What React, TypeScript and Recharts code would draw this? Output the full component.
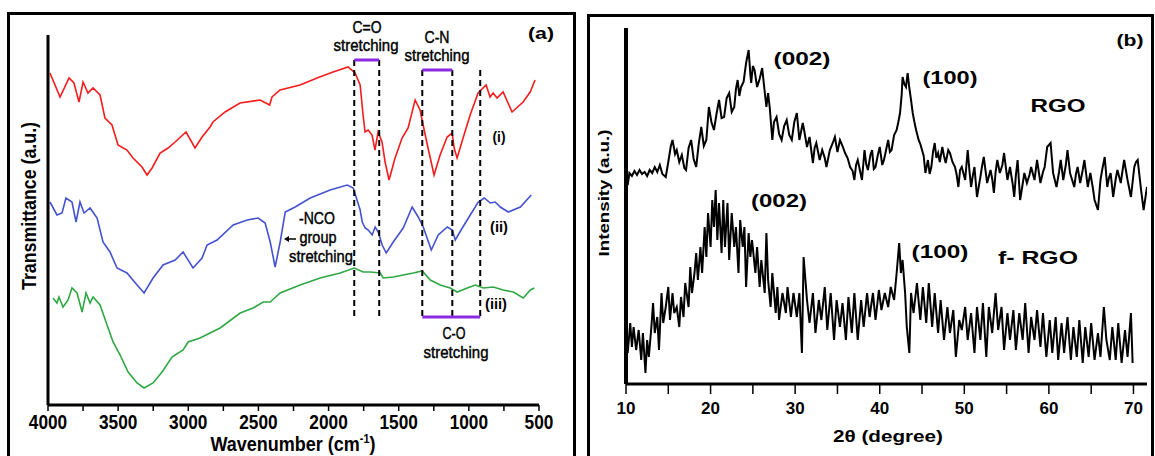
import { LineChart, Line, XAxis, YAxis, ReferenceLine } from 'recharts'

// FTIR spectra (a): [wavenumber cm-1, transmittance a.u.]
const ftirI: [number, number][] = [
  [3986, 332], [3914, 308], [3850, 327], [3815, 322], [3779, 303], [3750, 323], [3715, 312], [3679, 317],
  [3629, 310], [3594, 287], [3544, 280], [3501, 260], [3437, 255], [3394, 247], [3330, 238], [3294, 230],
  [3258, 237], [3201, 252], [3144, 257], [3094, 263], [3016, 273], [2952, 257], [2902, 268], [2845, 278],
  [2824, 283], [2738, 293], [2631, 302], [2488, 305], [2420, 300], [2403, 308], [2346, 315], [2203, 320],
  [2082, 327], [1968, 333], [1861, 338], [1811, 332], [1775, 320], [1754, 290], [1740, 273], [1718, 275],
  [1690, 270], [1669, 255], [1647, 273], [1619, 263], [1597, 243], [1569, 225], [1526, 247], [1476, 267],
  [1433, 277], [1383, 305], [1348, 295], [1326, 280], [1291, 257], [1248, 230], [1205, 250], [1155, 268],
  [1119, 272], [1105, 257], [1084, 247], [1041, 267], [991, 290], [934, 312], [877, 320], [849, 308],
  [827, 312], [799, 307], [756, 313], [692, 293], [613, 303], [563, 313], [528, 325],
]
const ftirII: [number, number][] = [
  [3986, 203], [3936, 190], [3900, 192], [3872, 207], [3829, 203], [3800, 183], [3772, 203], [3743, 192],
  [3700, 197], [3650, 187], [3608, 163], [3558, 153], [3508, 137], [3437, 132], [3365, 120], [3315, 112],
  [3251, 127], [3180, 140], [3094, 145], [3037, 153], [2966, 137], [2902, 147], [2866, 160], [2795, 165],
  [2680, 180], [2580, 185], [2502, 187], [2452, 182], [2416, 163], [2381, 138], [2345, 163], [2309, 193],
  [2238, 198], [2131, 207], [1989, 215], [1867, 220], [1824, 217], [1775, 195], [1760, 183], [1739, 177],
  [1717, 175], [1689, 170], [1668, 178], [1646, 173], [1618, 160], [1589, 152], [1539, 163], [1468, 177],
  [1404, 198], [1361, 188], [1325, 178], [1268, 155], [1218, 170], [1154, 178], [1118, 175], [1097, 165],
  [1047, 177], [990, 190], [933, 203], [890, 207], [847, 202], [812, 203], [776, 198], [719, 193],
  [633, 198], [555, 210],
]
const ftirIII: [number, number][] = [
  [3964, 107], [3936, 102], [3922, 108], [3893, 98], [3857, 105], [3829, 117], [3793, 112], [3757, 93],
  [3729, 112], [3700, 102], [3679, 108], [3629, 100], [3579, 80], [3536, 63], [3486, 50], [3429, 33],
  [3365, 22], [3315, 17], [3251, 22], [3187, 33], [3116, 48], [3037, 55], [3001, 63], [2916, 67],
  [2845, 72], [2773, 77], [2630, 92], [2538, 97], [2466, 103], [2416, 103], [2345, 112], [2203, 120],
  [2060, 127], [1917, 132], [1817, 137], [1753, 133], [1703, 133], [1632, 132], [1610, 127], [1539, 128],
  [1468, 130], [1396, 132], [1332, 134], [1275, 125], [1204, 120], [1133, 117], [1083, 113], [1011, 117],
  [954, 120], [897, 117], [826, 118], [755, 115], [683, 113], [612, 107], [562, 115], [533, 117],
]

// XRD patterns (b): [2theta degree, intensity a.u.]
const xrdRGO: [number, number][] = [
  [10.2, 199], [10.4, 211], [10.7, 208], [11.0, 213], [11.3, 209], [11.6, 214], [11.9, 210], [12.2, 212],
  [12.5, 208], [12.8, 214], [13.1, 211], [13.4, 217], [13.7, 212], [14.0, 219], [14.3, 210], [14.7, 207],
  [15.0, 222], [15.3, 238], [15.5, 244], [15.8, 230], [16.0, 234], [16.3, 222], [16.6, 229], [16.9, 216],
  [17.1, 214], [17.4, 236], [17.7, 244], [18.0, 225], [18.3, 217], [18.6, 240], [18.9, 257], [19.2, 238],
  [19.5, 244], [19.8, 277], [20.1, 262], [20.4, 254], [20.7, 270], [21.0, 284], [21.3, 266], [21.6, 267],
  [21.9, 286], [22.2, 291], [22.5, 272], [22.8, 277], [23.0, 295], [23.2, 304], [23.4, 288], [23.6, 297],
  [23.9, 302], [24.2, 321], [24.5, 334], [24.7, 310], [24.8, 301], [25.0, 318], [25.2, 314], [25.5, 297],
  [25.8, 305], [26.1, 316], [26.3, 300], [26.6, 277], [26.8, 291], [27.0, 276], [27.3, 244], [27.5, 262],
  [27.8, 267], [28.1, 250], [28.4, 244], [28.7, 258], [29.0, 264], [29.3, 249], [29.6, 244], [29.9, 262],
  [30.2, 271], [30.5, 244], [30.9, 261], [31.1, 252], [31.4, 237], [31.7, 247], [32.1, 221], [32.3, 236],
  [32.5, 241], [32.9, 224], [33.2, 234], [33.5, 226], [33.7, 217], [34.1, 234], [34.4, 240], [34.7, 247],
  [35.0, 232], [35.3, 244], [35.6, 238], [35.9, 231], [36.2, 226], [36.5, 217], [36.8, 213], [37.0, 204],
  [37.2, 219], [37.4, 224], [37.7, 212], [37.9, 204], [38.2, 234], [38.4, 220], [38.6, 214], [38.9, 229],
  [39.1, 234], [39.3, 215], [39.5, 217], [39.8, 230], [40.0, 237], [40.3, 219], [40.5, 224], [40.8, 236],
  [41.0, 244], [41.2, 232], [41.4, 234], [41.7, 249], [42.0, 254], [42.2, 262], [42.4, 271], [42.6, 290],
  [42.7, 307], [42.9, 300], [43.1, 297], [43.3, 311], [43.5, 296], [43.7, 284], [43.9, 271], [44.1, 262],
  [44.3, 254], [44.6, 244], [44.8, 240], [45.0, 234], [45.2, 228], [45.4, 211], [45.7, 224], [45.9, 210],
  [46.1, 217], [46.3, 232], [46.5, 241], [46.7, 226], [46.9, 231], [47.1, 222], [47.4, 237], [47.6, 228],
  [47.8, 221], [48.1, 234], [48.3, 231], [48.6, 222], [48.9, 217], [49.1, 209], [49.3, 197], [49.5, 214],
  [49.7, 217], [50.1, 204], [50.4, 234], [50.6, 214], [50.8, 197], [51.0, 208], [51.2, 217], [51.5, 187],
  [51.9, 207], [52.1, 218], [52.3, 227], [52.7, 201], [53.1, 214], [53.3, 205], [53.5, 191], [53.7, 212],
  [53.9, 224], [54.2, 211], [54.5, 219], [54.7, 231], [55.1, 204], [55.4, 217], [55.7, 201], [55.9, 187],
  [56.1, 209], [56.3, 224], [56.6, 184], [56.9, 200], [57.1, 211], [57.4, 201], [57.7, 209], [57.9, 217],
  [58.3, 204], [58.6, 224], [59.0, 201], [59.3, 212], [59.5, 217], [59.8, 237], [60.2, 241], [60.5, 211],
  [60.9, 197], [61.2, 212], [61.4, 224], [61.7, 204], [62.0, 219], [62.2, 234], [62.5, 211], [63.0, 197],
  [63.2, 210], [63.4, 217], [63.7, 201], [64.0, 214], [64.2, 224], [64.6, 197], [64.9, 211], [65.2, 196],
  [65.4, 184], [65.8, 174], [66.1, 204], [66.3, 214], [66.6, 227], [66.9, 197], [67.1, 206], [67.3, 211],
  [67.6, 187], [67.9, 205], [68.1, 214], [68.5, 201], [68.7, 213], [68.9, 224], [69.3, 204], [69.7, 187],
  [70.1, 217], [70.3, 222], [70.5, 224], [70.9, 194], [71.2, 174], [71.6, 197],
]
const xrdFRGO: [number, number][] = [
  [10.0, 54], [10.2, 31], [10.5, 61], [10.7, 37], [10.9, 57], [11.2, 34], [11.5, 54], [11.8, 24],
  [12.0, 51], [12.3, 11], [12.5, 44], [12.7, 27], [13.0, 57], [13.2, 81], [13.4, 51], [13.7, 67],
  [13.9, 34], [14.2, 91], [14.4, 61], [14.7, 77], [15.0, 97], [15.2, 64], [15.5, 91], [15.7, 71],
  [16.0, 77], [16.3, 57], [16.5, 87], [16.8, 67], [17.0, 101], [17.4, 77], [17.6, 117], [17.8, 91],
  [18.1, 111], [18.3, 131], [18.5, 104], [18.8, 137], [19.0, 111], [19.3, 157], [19.5, 127], [19.7, 171],
  [20.0, 137], [20.2, 184], [20.4, 157], [20.6, 194], [20.8, 144], [21.0, 181], [21.3, 131], [21.5, 184],
  [21.7, 137], [22.0, 181], [22.2, 124], [22.5, 171], [22.8, 137], [23.0, 157], [23.3, 111], [23.5, 164],
  [23.8, 137], [24.0, 157], [24.2, 97], [24.5, 151], [24.7, 127], [24.9, 144], [25.3, 111], [25.5, 137],
  [25.8, 97], [26.0, 124], [26.4, 91], [26.6, 151], [26.8, 104], [27.1, 77], [27.3, 111], [27.7, 71],
  [27.9, 97], [28.1, 64], [28.5, 91], [28.9, 71], [29.1, 97], [29.5, 67], [29.8, 91], [30.2, 67],
  [30.5, 91], [30.8, 31], [31.0, 127], [31.4, 84], [31.7, 61], [32.1, 91], [32.4, 51], [32.8, 84],
  [33.1, 64], [33.5, 97], [33.8, 54], [34.2, 91], [34.6, 44], [34.9, 84], [35.3, 57], [35.6, 81],
  [36.0, 44], [36.3, 87], [36.7, 51], [37.0, 91], [37.4, 44], [37.8, 84], [38.1, 57], [38.5, 91],
  [38.8, 67], [39.2, 91], [39.5, 64], [39.9, 94], [40.2, 74], [40.6, 91], [41.0, 77], [41.3, 97],
  [41.7, 84], [42.0, 111], [42.3, 141], [42.5, 111], [42.7, 124], [43.0, 91], [43.2, 57], [43.5, 31],
  [43.7, 91], [44.0, 71], [44.4, 101], [44.8, 64], [45.1, 97], [45.5, 61], [45.8, 101], [46.2, 57],
  [46.5, 91], [46.9, 51], [47.2, 84], [47.6, 44], [48.0, 77], [48.3, 51], [48.7, 74], [49.0, 27],
  [49.4, 64], [49.7, 54], [50.1, 77], [50.4, 44], [50.8, 71], [51.2, 31], [51.5, 77], [51.9, 44],
  [52.2, 81], [52.6, 27], [52.9, 77], [53.3, 51], [53.7, 91], [54.0, 54], [54.4, 77], [54.7, 34],
  [55.1, 71], [55.4, 44], [55.8, 74], [56.1, 34], [56.5, 71], [56.9, 44], [57.2, 81], [57.6, 31],
  [57.9, 67], [58.3, 44], [58.6, 74], [59.0, 37], [59.3, 71], [59.7, 27], [60.1, 64], [60.4, 31],
  [60.8, 67], [61.1, 24], [61.5, 61], [61.8, 31], [62.2, 67], [62.6, 24], [62.9, 57], [63.3, 27],
  [63.6, 64], [64.0, 21], [64.3, 57], [64.7, 27], [65.0, 61], [65.4, 24], [65.8, 51], [66.1, 27],
  [66.5, 77], [66.8, 44], [67.2, 24], [67.5, 57], [67.9, 24], [68.2, 61], [68.6, 21], [69.0, 54],
  [69.3, 27], [69.7, 71], [69.9, 21],
]

const ftirTicks = [4000, 3750, 3500, 3250, 3000, 2750, 2500, 2250, 2000, 1750, 1500, 1250, 1000, 750, 500]
const xrdTicks = [10, 15, 20, 25, 30, 35, 40, 45, 50, 55, 60, 65, 70]

// band edges in cm-1 used for the dashed guides and brackets
const coBand = [1817, 1639]
const cnBand = [1332, 1118]
const coStretchBand = [1332, 919]

const SANS = "'Liberation Sans', Arial, Helvetica, sans-serif"
const NARROW = "'Liberation Sans Narrow', 'Liberation Sans', Arial, sans-serif"
const PURPLE = '#8a2be2'

const pts = (a: [number, number][]) => a.map(([x, y]) => ({ x, y }))

function FtirTick({ x, y, payload }: any) {
  const v = payload.value as number
  if (v % 500 !== 0) return <g />
  const s = String(v)
  return (
    <text x={x} y={y + 16} textAnchor="middle" fontFamily={NARROW} fontWeight="bold" fontSize={20}
      textLength={s.length * 9.6} lengthAdjust="spacingAndGlyphs" fill="#000">{s}</text>
  )
}

function XrdTick({ x, y, payload }: any) {
  const v = payload.value as number
  if (v % 10 !== 0) return <g />
  return (
    <text x={x} y={y + 18} textAnchor="middle" fontFamily={SANS} fontWeight="bold" fontSize={17} fill="#000">{v}</text>
  )
}

// medium: regular glyphs with a hairline outline, close to the blurry semi-bold labels of panel (a)
function T({ x, y, w, size = 17, bold = false, medium = false, font = NARROW, children, rotate }: any) {
  return (
    <text x={x} y={y} textAnchor="middle" fontFamily={font} fontSize={size} fontWeight={bold ? 'bold' : 'normal'}
      textLength={w} lengthAdjust="spacingAndGlyphs" fill="#000"
      stroke={medium ? '#000' : undefined} strokeWidth={medium ? 0.45 : undefined}
      transform={rotate ? `rotate(${rotate} ${x} ${y})` : undefined}>{children}</text>
  )
}

function dashed(wn: number, top: number, bottom: number) {
  return (
    <ReferenceLine key={`d${wn}-${top}`} segment={[{ x: wn, y: top }, { x: wn, y: bottom }]}
      stroke="#000" strokeWidth={2} strokeDasharray="6 4" />
  )
}

function bracket(band: number[], level: number) {
  return (
    <ReferenceLine key={`b${band[0]}-${level}`} segment={[{ x: band[0], y: level }, { x: band[1], y: level }]}
      stroke={PURPLE} strokeWidth={3} />
  )
}

export default function App() {
  return (
    <div style={{ position: 'relative', width: 1155, height: 456, background: '#fff', overflow: 'hidden' }}>
      <style>{'body{margin:0}'}</style>

      <div style={{ position: 'absolute', left: 0, top: 0 }}>
        <LineChart width={580} height={456} margin={{ top: 35, right: 41, bottom: 0, left: 45 }}>
          <XAxis type="number" dataKey="x" domain={[500, 4000]} reversed ticks={ftirTicks} interval={0}
            tick={<FtirTick />} tickSize={6} height={51}
            axisLine={{ stroke: '#000', strokeWidth: 3 }} tickLine={{ stroke: '#000', strokeWidth: 1.5 }} />
          <YAxis type="number" domain={[0, 370]} width={3} tick={false} tickLine={false}
            axisLine={{ stroke: '#000', strokeWidth: 3 }} />
          <Line data={pts(ftirI)} dataKey="y" type="linear" stroke="#f41c1c" strokeWidth={1.6} dot={false} isAnimationActive={false} />
          <Line data={pts(ftirII)} dataKey="y" type="linear" stroke="#4452cf" strokeWidth={1.6} dot={false} isAnimationActive={false} />
          <Line data={pts(ftirIII)} dataKey="y" type="linear" stroke="#2fa844" strokeWidth={1.6} dot={false} isAnimationActive={false} />
          {dashed(coBand[0], 345, 85)}
          {dashed(coBand[1], 345, 85)}
          {dashed(cnBand[0], 335, 88)}
          {dashed(cnBand[1], 335, 88)}
          {dashed(coStretchBand[1], 335, 88)}
          {bracket(coBand, 345)}
          {bracket(cnBand, 335)}
          {bracket(coStretchBand, 88)}
        </LineChart>
      </div>

      <div style={{ position: 'absolute', left: 580, top: 0 }}>
        <LineChart width={575} height={456} margin={{ top: 28, right: 8, bottom: 0, left: 42 }}>
          <XAxis type="number" dataKey="x" domain={[10, 71.6]} allowDataOverflow ticks={xrdTicks} interval={0}
            tick={<XrdTick />} tickSize={10} height={72}
            axisLine={{ stroke: '#000', strokeWidth: 3 }} tickLine={{ stroke: '#000', strokeWidth: 1.5 }} />
          <YAxis type="number" domain={[0, 356]} width={4} tick={false} tickLine={false}
            axisLine={{ stroke: '#000', strokeWidth: 4 }} />
          <Line data={pts(xrdRGO)} dataKey="y" type="linear" stroke="#000" strokeWidth={2} dot={false} isAnimationActive={false} />
          <Line data={pts(xrdFRGO)} dataKey="y" type="linear" stroke="#000" strokeWidth={2} dot={false} isAnimationActive={false} />
        </LineChart>
      </div>

      <svg width={1155} height={456} style={{ position: 'absolute', left: 0, top: 0, pointerEvents: 'none' }}>
        <rect x={8.5} y={13.5} width={566} height={470} fill="none" stroke="#000" strokeWidth={3} />
        <rect x={588.5} y={15.5} width={564} height={470} fill="none" stroke="#000" strokeWidth={3} />

        {/* panel (a) annotations */}
        <T x={541} y={39} w={26} bold font={SANS}>(a)</T>
        <T x={367} y={33} w={29} medium>C=O</T>
        <T x={366} y={51} w={65} medium>stretching</T>
        <T x={437} y={43} w={25} medium>C-N</T>
        <T x={437} y={61} w={65} medium>stretching</T>
        <T x={499} y={142} w={13} size={15} bold font={SANS}>(i)</T>
        <T x={499} y={232} w={18} size={15} bold font={SANS}>(ii)</T>
        <T x={496} y={309} w={22} size={15} bold font={SANS}>(iii)</T>
        <T x={317} y={224} w={36} medium>-NCO</T>
        <T x={318} y={243} w={37} medium>group</T>
        <T x={321} y={262} w={64} medium>stretching</T>
        <path d="M296 239 L286 239" stroke="#000" strokeWidth={1.5} />
        <path d="M284 239 L289 236 L289 242 Z" fill="#000" />
        <T x={454} y={339} w={23} medium>C-O</T>
        <T x={456} y={358} w={65} medium>stretching</T>
        <T x={36} y={206} w={168} size={20} bold rotate={-90}>Transmittance (a.u.)</T>
        <g transform="translate(293 451) scale(0.9 1)">
          <text x={0} y={0} textAnchor="middle" fontFamily={SANS} fontWeight="bold" fontSize={20} fill="#000">
            Wavenumber (cm<tspan fontSize={12} dy={-8}>-1</tspan><tspan dy={8}>)</tspan>
          </text>
        </g>

        {/* panel (b) annotations */}
        <T x={1130} y={46} w={27} bold font={SANS}>(b)</T>
        <T x={802} y={65} w={57} size={19} bold font={SANS}>(002)</T>
        <T x={950} y={84} w={55} size={19} bold font={SANS}>(100)</T>
        <T x={1058} y={112} w={55} size={18} bold font={SANS}>RGO</T>
        <T x={779} y={207} w={56} size={19} bold font={SANS}>(002)</T>
        <T x={940} y={258} w={57} size={19} bold font={SANS}>(100)</T>
        <T x={1038} y={264} w={80} size={19} bold font={SANS}>f- RGO</T>
        <T x={609} y={193} w={127} size={15} bold font={SANS} rotate={-90}>Intensity (a.u.)</T>
        <T x={888} y={442} w={110} size={16} bold font={SANS}>2θ (degree)</T>
      </svg>
    </div>
  )
}
